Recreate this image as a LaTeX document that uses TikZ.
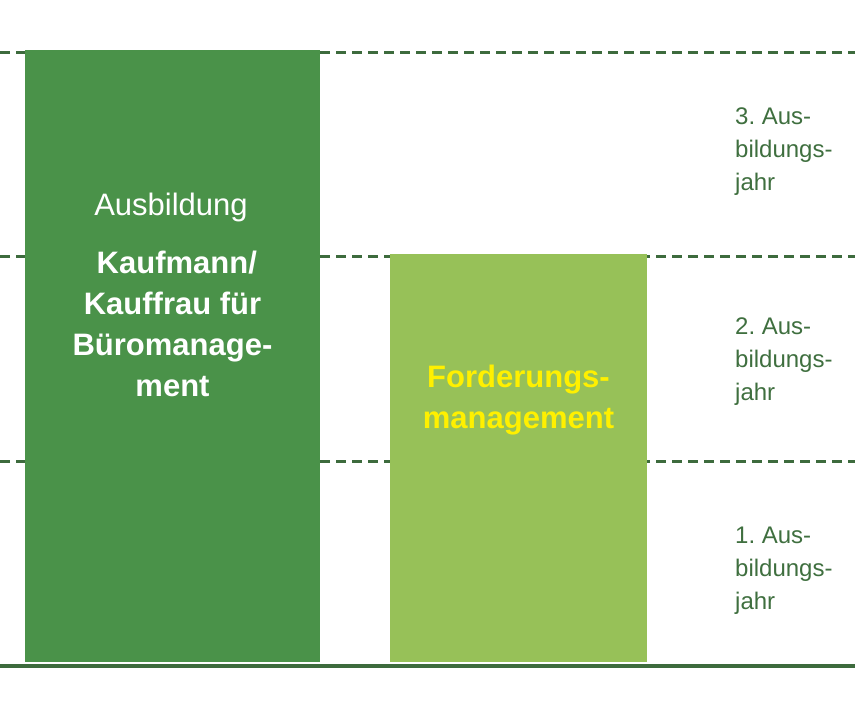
\documentclass[tikz,border=0pt]{standalone}
\usepackage{fontspec}
\setmainfont{Liberation Sans}
\frenchspacing
\definecolor{darkbox}{HTML}{4A9249}
\definecolor{lightbox}{HTML}{97C158}
\definecolor{linegreen}{HTML}{3D6B3D}
\definecolor{labelgreen}{HTML}{3F6F3F}
\definecolor{yellowtext}{HTML}{FFF000}
\begin{document}
\begin{tikzpicture}[x=1pt,y=-1pt,
  bandline/.style={draw=linegreen,line width=3pt,dash pattern=on 10pt off 6pt},
  baseline/.style={draw=linegreen,line width=4pt},
  boxdark/.style={fill=darkbox,draw=none},
  boxlight/.style={fill=lightbox,draw=none},
  boxtext/.style={inner sep=0pt,align=center,text=white,font=\fontsize{31}{41}\selectfont\bfseries},
  yeartext/.style={inner sep=0pt,align=left,text=labelgreen,font=\fontsize{24}{33}\selectfont\frenchspacing,anchor=base west}]
\useasboundingbox (0,0) rectangle (855,725);
% band lines
\coordinate (l1a) at (0,52.5); \coordinate (l1b) at (855,52.5);
\coordinate (l2a) at (0,256); \coordinate (l2b) at (855,256);
\coordinate (l3a) at (0,461); \coordinate (l3b) at (855,461);
\coordinate (l4a) at (0,666); \coordinate (l4b) at (855,666);
\draw[bandline] (l1a) -- (l1b);
\draw[bandline] (l2a) -- (l2b);
\draw[bandline] (l3a) -- (l3b);
\draw[baseline] (l4a) -- (l4b);
% boxes
\path[boxdark] (25,50.5) rectangle (320,661.5);
\path[boxlight] (390,254) rectangle (647,661.5);
% texts (anchor base = baseline of the last line)
\node[inner sep=0pt,text=white,font=\fontsize{31}{36}\selectfont,anchor=base] (ausb) at (171,215.5) {Ausbildung};
\node[boxtext,anchor=base] (kauf) at (172.5,396) {\ Kaufmann/\\Kauffrau für\\Büromanage-\\ment};
\node[boxtext,anchor=base,text=yellowtext] (ford) at (518.5,428) {Forderungs-\\management};
\node[yeartext] (j3) at (735,190) {3.~Aus-\\bildungs-\\jahr};
\node[yeartext] (j2) at (735,400) {2.~Aus-\\bildungs-\\jahr};
\node[yeartext] (j1) at (735,609) {1.~Aus-\\bildungs-\\jahr};
\end{tikzpicture}
\end{document}
